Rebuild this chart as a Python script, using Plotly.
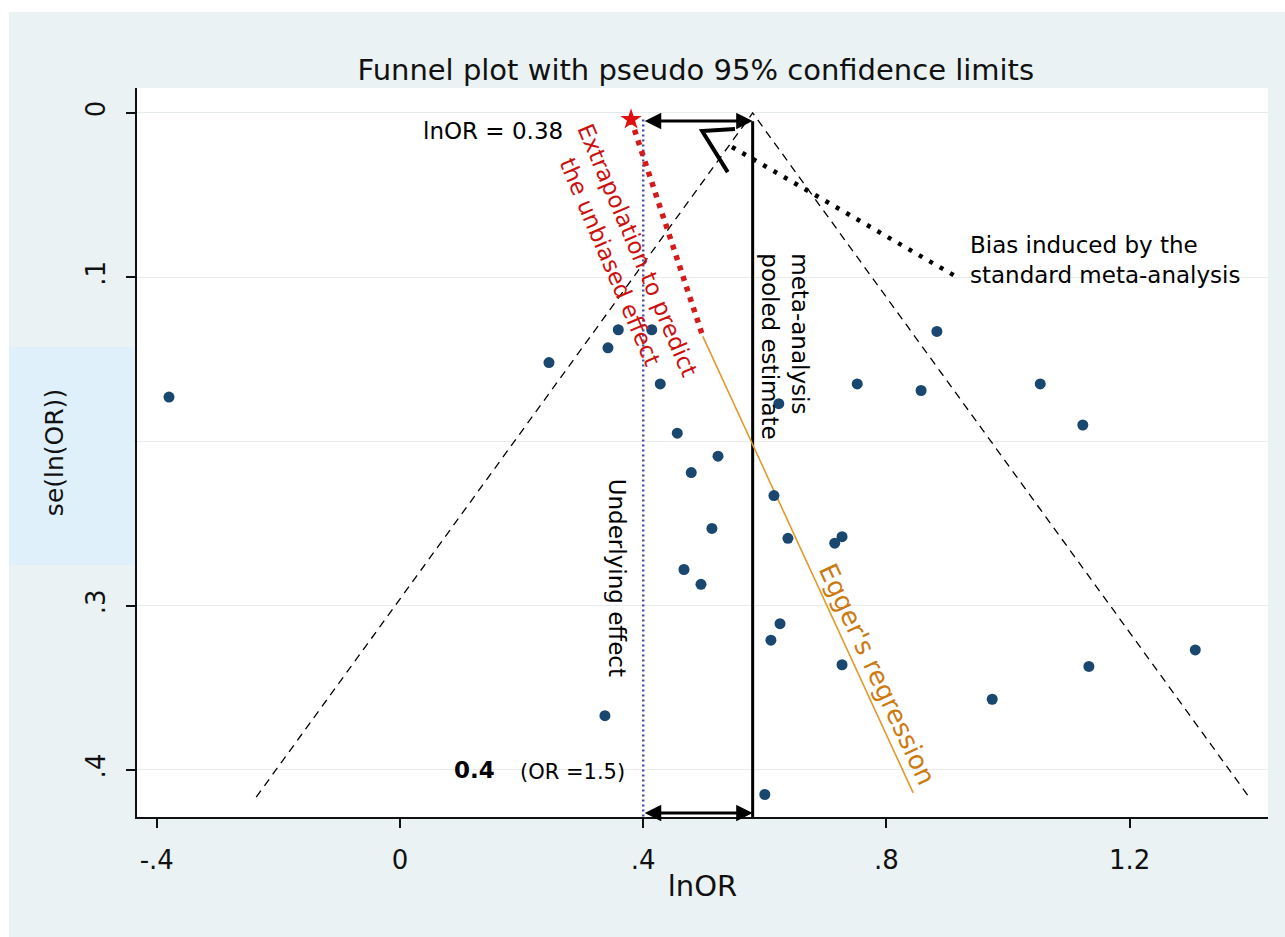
import plotly.graph_objects as go

# Study estimates: log odds ratio and its standard error
lnor = [-0.380, 0.245, 0.359, 0.342, 0.414, 0.428, 0.456, 0.523, 0.479, 0.623,
        0.615, 0.513, 0.638, 0.727, 0.715, 0.467, 0.495, 0.625, 0.610, 0.727,
        0.337, 0.600, 0.752, 0.857, 0.883, 1.053, 1.123, 1.133, 1.308, 0.974]
se = [0.173, 0.152, 0.132, 0.143, 0.132, 0.165, 0.195, 0.209, 0.219, 0.177,
      0.233, 0.253, 0.259, 0.258, 0.262, 0.278, 0.287, 0.311, 0.321, 0.336,
      0.367, 0.415, 0.165, 0.169, 0.133, 0.165, 0.190, 0.337, 0.327, 0.357]

pooled = 0.58        # standard meta-analysis pooled estimate
underlying = 0.40    # underlying effect (OR = 1.5)
unbiased = 0.38      # extrapolated unbiased effect
z95 = 1.96
funnel_se = [0.0, 0.4166]

# Egger's regression line and its extrapolation to se = 0
egger_x = [0.498, 0.844]
egger_se = [0.136, 0.414]
extrap_x = [unbiased, 0.498]
extrap_se = [0.004, 0.136]

# Dotted "bias" pointer and its open arrowhead
bias_x = [0.546, 0.921]
bias_se = [0.0207, 0.101]
bias_head_x = [0.551, 0.497, 0.539]
bias_head_se = [0.0097, 0.011, 0.036]

x_ticks = [-0.4, 0, 0.4, 0.8, 1.2]
x_ticktext = ["-.4", "0", ".4", ".8", "1.2"]
y_ticks = [0, 0.1, 0.2, 0.3, 0.4]
y_ticktext = ["0", ".1", "", ".3", ".4"]

x_range = [-0.4326, 1.4276]
y_range = [0.4287, -0.0152]
arrow_top_se = 0.0049
arrow_bottom_se = 0.4263

FONT = "DejaVu Sans"
BG = "#EAF2F3"
NAVY = "#1a476f"

fig = go.Figure()

# Pseudo 95% confidence limits
fig.add_trace(go.Scatter(
    x=[pooled - z95 * funnel_se[1], pooled, pooled + z95 * funnel_se[1]],
    y=[funnel_se[1], funnel_se[0], funnel_se[1]],
    mode="lines", line=dict(color="black", width=1.3, dash="8px,6px"),
    hoverinfo="skip"))

# Underlying effect
fig.add_trace(go.Scatter(
    x=[underlying, underlying], y=[0.004, y_range[0]],
    mode="lines", line=dict(color="#4a4aa0", width=2.5, dash="2px,3px"),
    hoverinfo="skip"))

# Pooled estimate
fig.add_trace(go.Scatter(
    x=[pooled, pooled], y=[0.005, y_range[0]],
    mode="lines", line=dict(color="black", width=3),
    hoverinfo="skip"))

# Egger's regression
fig.add_trace(go.Scatter(
    x=egger_x, y=egger_se, mode="lines",
    line=dict(color="#E09A2C", width=1.6), hoverinfo="skip"))

# Extrapolation to se = 0
fig.add_trace(go.Scatter(
    x=extrap_x, y=extrap_se, mode="lines",
    line=dict(color="#D41A1A", width=5.5, dash="5px,6px"), hoverinfo="skip"))

# Bias pointer
fig.add_trace(go.Scatter(
    x=bias_x, y=bias_se, mode="lines",
    line=dict(color="black", width=4.5, dash="4px,8px"), hoverinfo="skip"))
fig.add_trace(go.Scatter(
    x=bias_head_x, y=bias_head_se, mode="lines",
    line=dict(color="black", width=4), hoverinfo="skip"))

# Studies
fig.add_trace(go.Scatter(
    x=lnor, y=se, mode="markers",
    marker=dict(color=NAVY, size=11, line=dict(width=0)),
    hovertemplate="lnOR=%{x}<br>se=%{y}<extra></extra>"))

# Unbiased effect marker
fig.add_trace(go.Scatter(
    x=[unbiased], y=[0.004], mode="markers",
    marker=dict(color="#E01010", size=16, symbol="star"), hoverinfo="skip"))

ann = []
# double-headed arrows between underlying effect and pooled estimate
for yy in (arrow_top_se, arrow_bottom_se):
    ann.append(dict(x=pooled, y=yy, ax=underlying, ay=yy, xref="x", yref="y",
                    axref="x", ayref="y", text="", showarrow=True,
                    arrowside="end+start", arrowhead=2, arrowsize=1.1,
                    arrowwidth=3, arrowcolor="black"))

tf = dict(family=FONT, size=23, color="black")
ann += [
    dict(x=0.153, y=0.011, text="lnOR = 0.38", showarrow=False, font=tf),
    dict(x=0.368, y=0.087, text="Extrapolation to predict<br>the unbiased effect",
         showarrow=False, textangle=67,
         font=dict(family=FONT, size=23, color="#CC1111")),
    dict(x=0.633, y=0.142, text="meta-analysis<br>pooled estimate",
         showarrow=False, textangle=90, align="left", font=tf),
    dict(x=0.934, y=0.0898, text="Bias induced by the<br>standard meta-analysis",
         showarrow=False, xanchor="left", align="left", font=tf),
    dict(x=0.357, y=0.283, text="Underlying effect", showarrow=False,
         textangle=90, font=tf),
    dict(x=0.786, y=0.342, text="Egger's regression", showarrow=False,
         textangle=65, font=dict(family=FONT, size=26, color="#CC7A12")),
    dict(x=0.123, y=0.400, text="<b>0.4</b>", showarrow=False,
         font=dict(family=FONT, size=23, color="black")),
    dict(x=0.283, y=0.401, text="(OR =1.5)", showarrow=False,
         font=dict(family=FONT, size=21, color="black")),
    dict(x=0.602, y=0.4507, text="0.58", showarrow=False,
         font=dict(family=FONT, size=21, color="black")),
]

shapes = [
    # white border around the outer panel
    dict(type="rect", xref="paper", yref="paper", x0=-0.2, x1=1.2,
         y0=1.1043, y1=1.3, fillcolor="white", line=dict(width=0), layer="below"),
    dict(type="rect", xref="paper", yref="paper", x0=-0.2, x1=-0.1132,
         y0=-0.3, y1=1.3, fillcolor="white", line=dict(width=0), layer="below"),
    # highlight behind the y-axis title
    dict(type="rect", xref="paper", yref="paper", x0=-0.1132, x1=-0.0018,
         y0=0.3457, y1=0.6447, fillcolor="#E0F0FA", line=dict(width=0),
         layer="above"),
]

fig.update_layout(
    width=1285, height=937,
    margin=dict(l=137, r=17, t=88, b=120),
    paper_bgcolor=BG, plot_bgcolor="white",
    showlegend=False,
    title=dict(text="Funnel plot with pseudo 95% confidence limits",
               x=0.5415, xanchor="center", y=0.925, yanchor="middle",
               font=dict(family=FONT, size=29, color="#111")),
    xaxis=dict(range=x_range, tickvals=x_ticks, ticktext=x_ticktext,
               showgrid=False, zeroline=False, showline=True,
               linecolor="#111", linewidth=1.6, ticks="outside", ticklen=9,
               tickwidth=1.5, tickcolor="#111", ticklabelstandoff=10,
               tickfont=dict(family=FONT, size=26, color="#111"),
               title=dict(text="lnOR", standoff=2,
                          font=dict(family=FONT, size=29, color="#111"))),
    yaxis=dict(range=y_range, tickvals=y_ticks, ticktext=y_ticktext,
               showgrid=True, gridcolor="#E6EBED", gridwidth=1,
               zeroline=False, showline=True, linecolor="#111", linewidth=1.6,
               ticks="outside", ticklen=9, tickwidth=1.5, tickcolor="#111",
               tickangle=-90, ticklabelstandoff=11,
               tickfont=dict(family=FONT, size=26, color="#111"),
               title=dict(text="se(ln(OR))", standoff=10,
                          font=dict(family=FONT, size=25, color="#111"))),
    annotations=ann, shapes=shapes,
)

fig.write_html("out.html")
